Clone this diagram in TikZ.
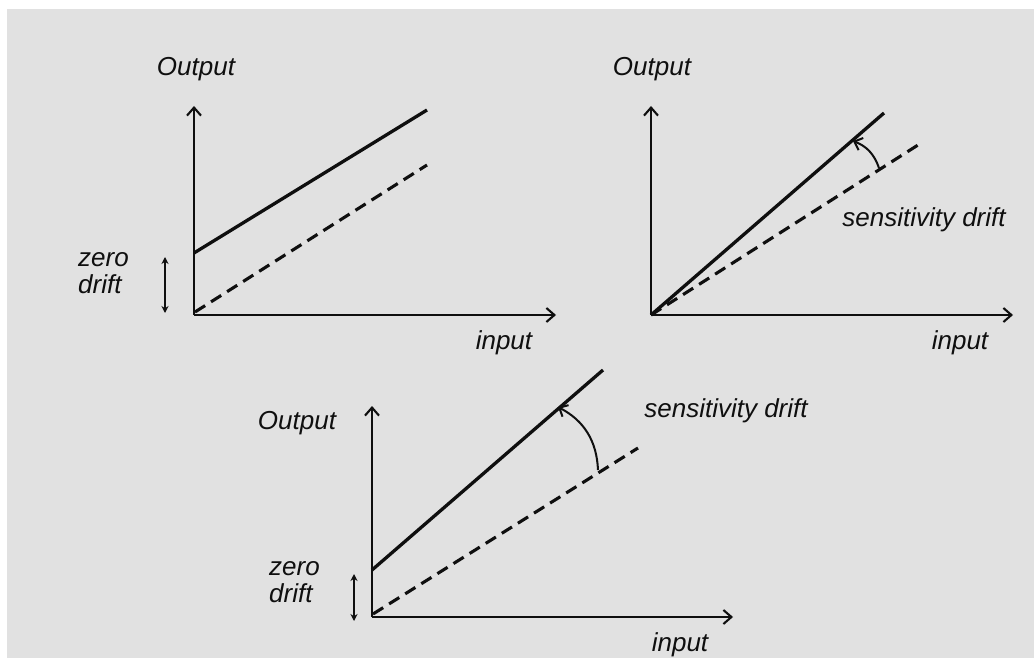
\documentclass[tikz,border=0pt]{standalone}
\usepackage{fontspec}
\setmainfont{Liberation Sans}
\usetikzlibrary{arrows.meta}
\definecolor{bg}{RGB}{225,225,225}
\definecolor{ink}{RGB}{15,15,15}
\begin{document}
\begin{tikzpicture}[x=1pt,y=-1pt,
  lbl/.style={font=\fontsize{26}{30}\selectfont\itshape, text=ink, inner sep=0pt},
  axis/.style={line width=2.1pt, ink, -{Straight Barb[length=8pt,width=14pt,line width=2.1pt]}},
  solidline/.style={line width=3.3pt, ink},
  dashline/.style={line width=3.1pt, ink, dash pattern=on 12pt off 7pt},
  zeroarrow/.style={line width=2pt, ink, {Stealth[length=7pt,width=7pt]}-{Stealth[length=7pt,width=7pt]}},
  driftarrow/.style={line width=2pt, ink, -{Straight Barb[length=7pt,width=13pt,line width=2pt]}}
]
\useasboundingbox (0,0) rectangle (1034,658);
\fill[bg] (7,9) rectangle (1034,658);

% ---------- Panel 1 ----------
\coordinate (O1) at (194,315);
\coordinate (Y1) at (194,106);
\coordinate (X1) at (556,315);
\coordinate (S1a) at (194,253);
\coordinate (S1b) at (427,110);
\coordinate (D1a) at (195,312);
\coordinate (D1b) at (427,165);
\coordinate (Z1a) at (165,257);
\coordinate (Z1b) at (165,313);
\draw[axis] (O1) -- (Y1);
\draw[axis] (O1) -- (X1);
\draw[solidline] (S1a) -- (S1b);
\draw[dashline] (D1a) -- (D1b);
\draw[zeroarrow] (Z1a) -- (Z1b);
\node[lbl] (out1) at (196,69) {Output};
\node[lbl] (in1) at (504,343) {input};
\node[lbl, anchor=west, align=left] (zd1) at (78,273) {zero\\[-3pt]drift};

% ---------- Panel 2 ----------
\coordinate (O2) at (651,315);
\coordinate (Y2) at (651,106);
\coordinate (X2) at (1013,315);
\coordinate (S2b) at (884,113);
\coordinate (D2b) at (918,145);
\coordinate (C2a) at (879,168);
\coordinate (C2b) at (853,141);
\draw[axis] (O2) -- (Y2);
\draw[axis] (O2) -- (X2);
\draw[solidline] (O2) -- (S2b);
\draw[dashline] (O2) -- (D2b);
\draw[driftarrow] (C2a) to[bend right=25] (C2b);
\node[lbl] (out2) at (652,69) {Output};
\node[lbl] (in2) at (960,343) {input};
\node[lbl] (sd2) at (924,220) {sensitivity drift};

% ---------- Panel 3 ----------
\coordinate (O3) at (372,617);
\coordinate (Y3) at (372,406);
\coordinate (X3) at (733,617);
\coordinate (S3a) at (372,570);
\coordinate (S3b) at (603,370);
\coordinate (D3a) at (373,614);
\coordinate (D3b) at (638,448);
\coordinate (C3a) at (598,470);
\coordinate (C3b) at (558,407);
\coordinate (Z3a) at (354,574);
\coordinate (Z3b) at (354,621);
\draw[axis] (O3) -- (Y3);
\draw[axis] (O3) -- (X3);
\draw[solidline] (S3a) -- (S3b);
\draw[dashline] (D3a) -- (D3b);
\draw[driftarrow] (C3a) to[bend right=30] (C3b);
\draw[zeroarrow] (Z3a) -- (Z3b);
\node[lbl] (out3) at (297,423) {Output};
\node[lbl] (in3) at (680,645) {input};
\node[lbl] (sd3) at (726,411) {sensitivity drift};
\node[lbl, anchor=west, align=left] (zd3) at (269,582) {zero\\[-3pt]drift};
\end{tikzpicture}
\end{document}
